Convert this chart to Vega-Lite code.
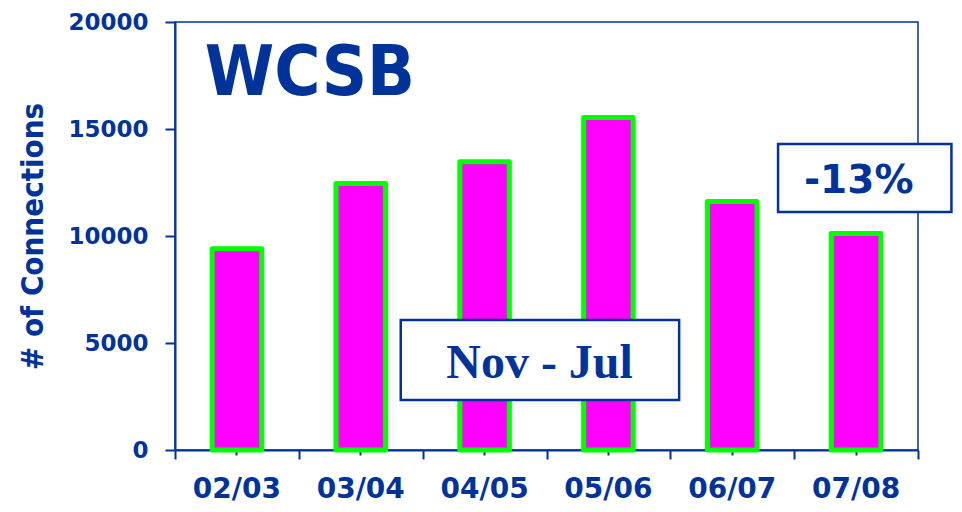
{
  "$schema": "https://vega.github.io/schema/vega-lite/v6.json",
  "width": 743,
  "height": 428,
  "autosize": "none",
  "padding": {"left": 175, "top": 22, "right": 44, "bottom": 62},
  "background": "white",
  "config": {
    "view": {"stroke": "#003399", "strokeWidth": 1.5}
  },
  "datasets": {
    "bars": [
      {"season": "02/03", "connections": 9400},
      {"season": "03/04", "connections": 12450},
      {"season": "04/05", "connections": 13470},
      {"season": "05/06", "connections": 15540},
      {"season": "06/07", "connections": 11610},
      {"season": "07/08", "connections": 10120}
    ],
    "boxes": [
      {"label": "Nov - Jul", "x1": 1.823, "x2": 4.071, "y1": 2336, "y2": 6075, "tx": 2.944, "ty": 3350},
      {"label": "-13%", "x1": 4.87, "x2": 6.27, "y1": 11120, "y2": 14300, "tx": 5.521, "ty": 11995}
    ],
    "heading": [
      {"label": "WCSB", "x": 0.24, "y": 16589}
    ]
  },
  "layer": [
    {
      "data": {"name": "bars"},
      "mark": {"type": "bar", "fill": "#FF00FF", "stroke": "#00FF00", "strokeWidth": 5, "strokeJoin": "round"},
      "encoding": {
        "x": {
          "field": "season", "type": "nominal", "sort": null,
          "scale": {"paddingInner": 0.6, "paddingOuter": 0.3},
          "axis": {
            "orient": "bottom", "title": null, "labelAngle": 0,
            "domainColor": "#003399", "domainWidth": 2,
            "ticks": true, "tickColor": "#003399", "tickWidth": 2, "tickSize": 5,
            "labelFont": "DejaVu Sans", "labelFontWeight": "bold", "labelFontSize": 28,
            "labelColor": "#003399", "labelPadding": 20
          }
        },
        "y": {
          "field": "connections", "type": "quantitative",
          "scale": {"domain": [0, 20000], "nice": false},
          "axis": {
            "orient": "left",
            "title": "# of Connections", "values": [0, 5000, 10000, 15000, 20000], "format": "d",
            "grid": false,
            "domainColor": "#003399", "domainWidth": 2,
            "ticks": true, "tickColor": "#003399", "tickWidth": 2, "tickSize": 10,
            "labelFont": "DejaVu Sans", "labelFontWeight": "bold", "labelFontSize": 23,
            "labelColor": "#003399", "labelPadding": 17,
            "titleFont": "DejaVu Sans Condensed", "titleFontWeight": "bold", "titleFontSize": 31,
            "titleColor": "#003399", "titlePadding": 18
          }
        }
      }
    },
    {
      "data": {"name": "bars"},
      "mark": {"type": "bar", "opacity": 0},
      "encoding": {
        "x": {
          "field": "season", "type": "nominal", "sort": null,
          "scale": {"paddingInner": 0, "paddingOuter": 0},
          "axis": {
            "orient": "bottom", "title": null, "labels": false, "domain": false,
            "tickBand": "extent", "tickColor": "#003399", "tickWidth": 2, "tickSize": 9
          }
        },
        "y": {"field": "connections", "type": "quantitative", "scale": {"domain": [0, 20000], "nice": false}, "axis": null}
      }
    },
    {
      "data": {"name": "boxes"},
      "mark": {"type": "rect", "fill": "white", "stroke": "#003399", "strokeWidth": 2.5},
      "encoding": {
        "x": {"field": "x1", "type": "quantitative", "scale": {"domain": [0, 6], "nice": false, "zero": false}, "axis": null},
        "x2": {"field": "x2"},
        "y": {"field": "y1", "type": "quantitative", "scale": {"domain": [0, 20000], "nice": false}, "axis": null},
        "y2": {"field": "y2"}
      }
    },
    {
      "data": {"name": "boxes"},
      "transform": [{"filter": "datum.label === 'Nov - Jul'"}],
      "mark": {"type": "text", "font": "Liberation Serif", "fontWeight": "bold", "fontSize": 48, "color": "#003399", "align": "center", "baseline": "alphabetic"},
      "encoding": {
        "x": {"field": "tx", "type": "quantitative", "scale": {"domain": [0, 6], "nice": false, "zero": false}, "axis": null},
        "y": {"field": "ty", "type": "quantitative", "scale": {"domain": [0, 20000], "nice": false}, "axis": null},
        "text": {"field": "label"}
      }
    },
    {
      "data": {"name": "boxes"},
      "transform": [{"filter": "datum.label === '-13%'"}],
      "mark": {"type": "text", "font": "DejaVu Sans", "fontWeight": "bold", "fontSize": 39, "color": "#003399", "align": "center", "baseline": "alphabetic"},
      "encoding": {
        "x": {"field": "tx", "type": "quantitative", "scale": {"domain": [0, 6], "nice": false, "zero": false}, "axis": null},
        "y": {"field": "ty", "type": "quantitative", "scale": {"domain": [0, 20000], "nice": false}, "axis": null},
        "text": {"field": "label"}
      }
    },
    {
      "data": {"name": "heading"},
      "mark": {"type": "text", "font": "DejaVu Sans Condensed", "fontWeight": "bold", "fontSize": 70, "color": "#003399", "align": "left", "baseline": "alphabetic"},
      "encoding": {
        "x": {"field": "x", "type": "quantitative", "scale": {"domain": [0, 6], "nice": false, "zero": false}, "axis": null},
        "y": {"field": "y", "type": "quantitative", "scale": {"domain": [0, 20000], "nice": false}, "axis": null},
        "text": {"field": "label"}
      }
    }
  ],
  "resolve": {"scale": {"x": "independent"}, "axis": {"x": "independent", "y": "independent"}}
}
